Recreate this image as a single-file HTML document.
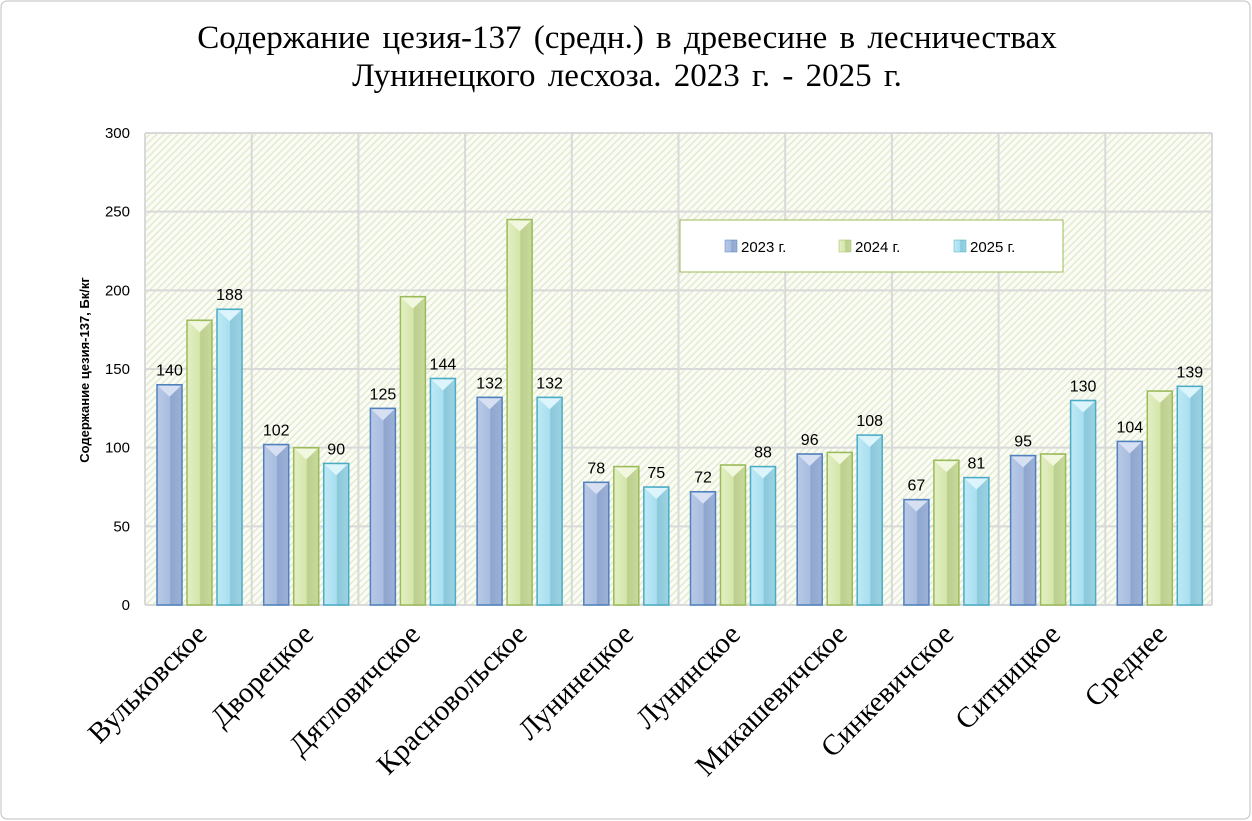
<!DOCTYPE html>
<html><head><meta charset="utf-8"><style>body{margin:0;background:#fff}svg{display:block}</style></head>
<body>
<svg width="1252" height="821" xmlns="http://www.w3.org/2000/svg">
<defs>
<pattern id="h" width="5" height="5" patternUnits="userSpaceOnUse" patternTransform="rotate(45)">
<rect width="5" height="5" fill="#fbfcf7"/><rect width="1.5" height="5" fill="#e2ebcd"/></pattern>
<linearGradient id="b" x1="0" x2="1"><stop offset="0" stop-color="#b9c9e6"/><stop offset="0.5" stop-color="#a9bde0"/><stop offset="0.55" stop-color="#8fa6cf"/><stop offset="1" stop-color="#9db1d6"/></linearGradient>
<linearGradient id="g" x1="0" x2="1"><stop offset="0" stop-color="#e3efc5"/><stop offset="0.5" stop-color="#d5e6ab"/><stop offset="0.55" stop-color="#bccf8e"/><stop offset="1" stop-color="#c8d99c"/></linearGradient>
<linearGradient id="c" x1="0" x2="1"><stop offset="0" stop-color="#bfe9f5"/><stop offset="0.5" stop-color="#a8dff0"/><stop offset="0.55" stop-color="#8ac8da"/><stop offset="1" stop-color="#9dd3e3"/></linearGradient>
</defs>
<rect x="1" y="1" width="1249" height="818" rx="6" fill="#fff" stroke="#bfbfbf"/>
<text x="627" y="48" font-family="Liberation Serif" font-size="33" text-anchor="middle" word-spacing="4">Содержание цезия-137 (средн.) в древесине в лесничествах</text>
<text x="627" y="86" font-family="Liberation Serif" font-size="33" text-anchor="middle" word-spacing="4">Лунинецкого лесхоза. 2023 г. - 2025 г.</text>
<rect x="145" y="133" width="1067" height="472" fill="url(#h)"/>
<g stroke="#d9d9d9" stroke-width="2" id="grid"></g>
<g id="bars"></g>
<rect x="680" y="220" width="383" height="52" fill="#fff" stroke="#9bbb59"/>
<g font-family="Liberation Sans" font-size="15">
<rect x="725" y="240" width="12" height="12" fill="url(#b)" stroke="#4f81bd" stroke-width="0.5"/><text x="741" y="252">2023 г.</text>
<rect x="839" y="240" width="12" height="12" fill="url(#g)" stroke="#9bbb59" stroke-width="0.5"/><text x="855" y="252">2024 г.</text>
<rect x="954" y="240" width="12" height="12" fill="url(#c)" stroke="#4bacc6" stroke-width="0.5"/><text x="970" y="252">2025 г.</text>
</g>
<text transform="translate(89,370) rotate(-90)" font-family="Liberation Sans" font-size="13" font-weight="bold" text-anchor="middle">Содержание цезия-137, Бк/кг</text>
<g id="yl" font-family="Liberation Sans" font-size="15" text-anchor="end"></g>
<g id="xl" font-family="Liberation Serif" font-size="29" text-anchor="end"></g>
<g id="vl" font-family="Liberation Sans" font-size="16" text-anchor="middle"></g>
</svg>
<script>
var NS="http://www.w3.org/2000/svg";
function el(p,t,a,txt){var e=document.createElementNS(NS,t);for(var k in a)e.setAttribute(k,a[k]);if(txt!=null)e.textContent=txt;document.getElementById(p).appendChild(e);}
var L=145,R=1212,T=133,B=605,cw=(R-L)/10,k=(B-T)/300;
for(var v=0;v<=300;v+=50){var y=B-v*k;el("grid","line",{x1:L,x2:R,y1:y,y2:y});el("yl","text",{x:130,y:y+5},v);}
for(var i=0;i<=10;i++){var x=L+i*cw;el("grid","line",{x1:x,x2:x,y1:T,y2:B});}
var names=["Вульковское","Дворецкое","Дятловичское","Красновольское","Лунинецкое","Лунинское","Микашевичское","Синкевичское","Ситницкое","Среднее"];
var d=[[140,181,188],[102,100,90],[125,196,144],[132,245,132],[78,88,75],[72,89,88],[96,97,108],[67,92,81],[95,96,130],[104,136,139]];
var fills=["url(#b)","url(#g)","url(#c)"],strokes=["#4f81bd","#9bbb59","#4bacc6"],tops=["#d6e0f2","#f2f8e0","#dcf4fb"];
for(var i=0;i<10;i++){var x0=L+i*cw+12;
 for(var j=0;j<3;j++){var v=d[i][j],x=x0+j*30,y=B-v*k,h=v*k;
  el("bars","rect",{x:x,y:y,width:25,height:h,fill:fills[j],stroke:strokes[j],"stroke-width":1.5});
  el("bars","polygon",{points:(x+1)+","+(y+1)+" "+(x+24)+","+(y+1)+" "+(x+12.5)+","+(y+12),fill:tops[j]});
  if(j!=1)el("vl","text",{x:x+12.5,y:y-9},v);
 }
 var cx=L+i*cw+cw/2+10;
 el("xl","text",{x:cx,y:636,transform:"rotate(-45 "+cx+" 636)"},names[i]);
}
</script>
</body></html>
